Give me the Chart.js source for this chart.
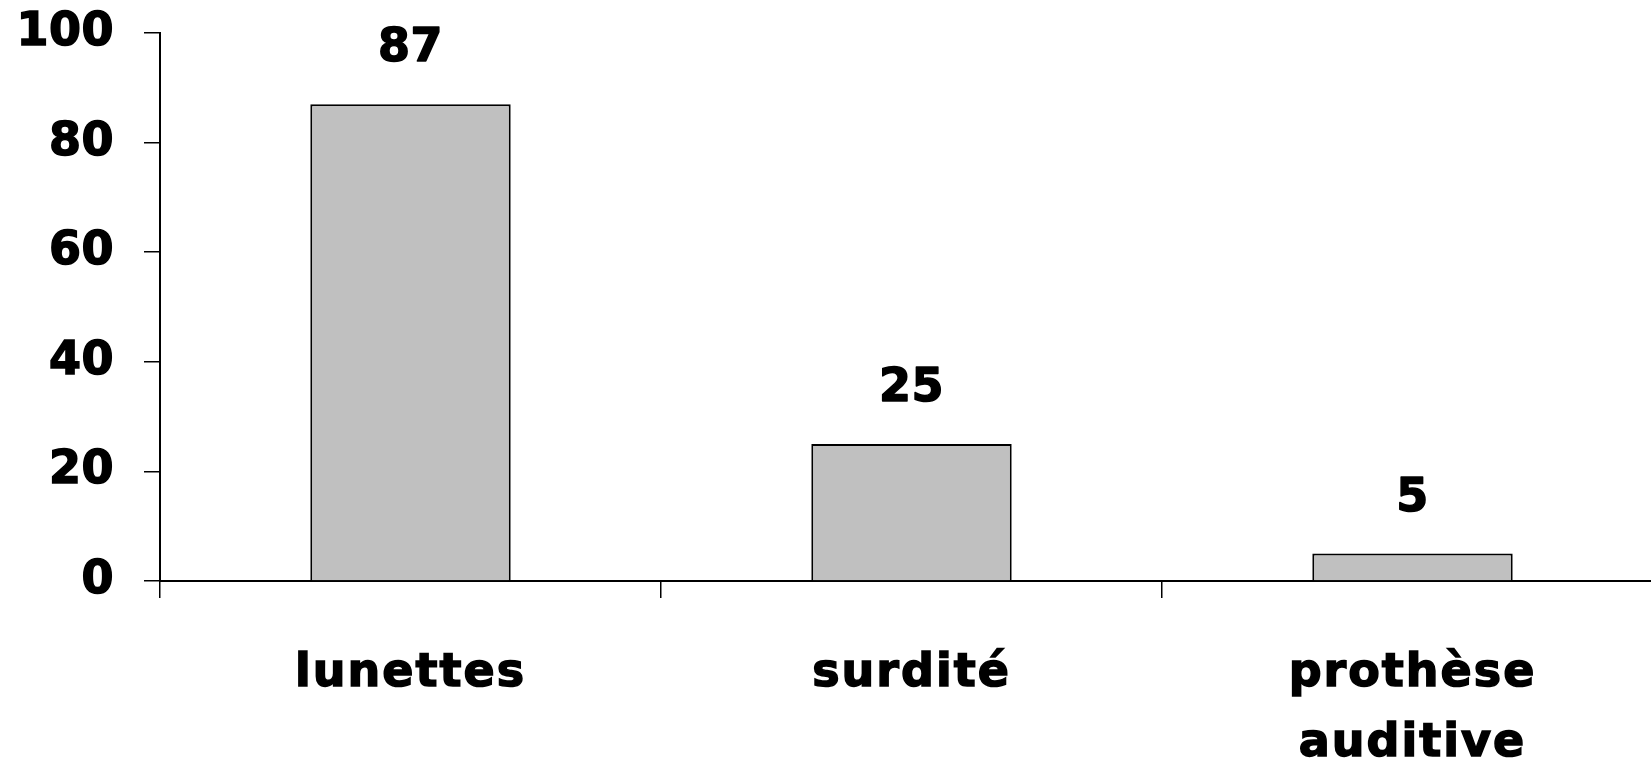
<!DOCTYPE html>
<html>
<head>
<meta charset="utf-8">
<script src="https://cdn.jsdelivr.net/npm/chart.js@4"></script>
<style>
    html, body { margin: 0; padding: 0; background: #fff; overflow: hidden; }
    #wrap { position: relative; width: 1663px; height: 762px; }
</style>
</head>
<body>
<div id="wrap"><canvas id="aidesChart"></canvas></div>
<script>
const categories = ['lunettes', 'surdité', ['prothèse', 'auditive']];
const counts = [87, 25, 5];
const yTicks = [0, 20, 40, 60, 80, 100];

const FONT = { family: "'DejaVu Sans', sans-serif", size: 46, weight: 'bold' };
const STROKE = 1.5;

// espacement des lettres : plus large sous l'axe x que pour les nombres
const spacing = {
    id: 'spacing',
    beforeDraw(chart) {
        chart.ctx.letterSpacing = '0.5px';
    },
    afterDatasetsDraw(chart) {
        chart.ctx.letterSpacing = '0.5px';
    }
};

// valeur écrite au-dessus de chaque barre
const valueLabels = {
    id: 'valueLabels',
    afterDatasetsDraw(chart) {
        const ctx = chart.ctx;
        const meta = chart.getDatasetMeta(0);
        ctx.save();
        ctx.font = `bold ${FONT.size}px ${FONT.family}`;
        ctx.fillStyle = '#000';
        ctx.strokeStyle = '#000';
        ctx.lineWidth = STROKE;
        ctx.lineJoin = 'round';
        ctx.textAlign = 'center';
        ctx.textBaseline = 'middle';
        meta.data.forEach((bar, i) => {
            ctx.strokeText(String(counts[i]), bar.x, bar.y - 55);
            ctx.fillText(String(counts[i]), bar.x, bar.y - 55);
        });
        ctx.restore();
    }
};

document.addEventListener('DOMContentLoaded', () => {
    const ctx = document.getElementById('aidesChart');
    const chart = new Chart(ctx.getContext('2d'), {
        type: 'bar',
        data: {
            labels: categories,
            datasets: [{
                data: counts,
                backgroundColor: '#c0c0c0',
                borderColor: '#000',
                borderWidth: 2,
                barPercentage: 0.4,
                categoryPercentage: 1
            }]
        },
        options: {
            responsive: true,
            maintainAspectRatio: false,
            animation: false,
            layout: { padding: { top: 33, left: 18, right: 0, bottom: 0 } },
            plugins: {
                legend: { display: false },
                tooltip: { enabled: false }
            },
            scales: {
                x: {
                    afterFit(scale) {
                        scale.height = 181;
                        scale.paddingLeft = 0;
                        scale.paddingRight = 0;
                    },
                    grid: {
                        offset: true,
                        drawOnChartArea: false,
                        drawTicks: true,
                        tickLength: 17,
                        color: '#000',
                        lineWidth: 1.5
                    },
                    border: { display: true, color: '#000', width: 2 },
                    ticks: {
                        color: '#000',
                        textStrokeColor: '#000',
                        textStrokeWidth: STROKE,
                        font: { ...FONT, lineHeight: 70 / 46 },
                        padding: 41,
                        maxRotation: 0,
                        autoSkip: false
                    }
                },
                y: {
                    min: 0,
                    max: 100,
                    afterBuildTicks(scale) {
                        scale.ticks = yTicks.map(v => ({ value: v }));
                    },
                    afterFit(scale) {
                        scale.width = 142;
                        scale.paddingTop = 0;
                        scale.paddingBottom = 0;
                    },
                    grid: {
                        drawOnChartArea: false,
                        drawTicks: true,
                        tickLength: 16,
                        color: '#000',
                        lineWidth: 1.5
                    },
                    border: { display: true, color: '#000', width: 2 },
                    ticks: {
                        color: '#000',
                        textStrokeColor: '#000',
                        textStrokeWidth: STROKE,
                        font: FONT,
                        padding: 30
                    }
                }
            }
        },
        plugins: [spacing, valueLabels]
    });

    // les noms de catégories sont un peu plus espacés
    const xScale = chart.scales.x;
    const drawX = xScale.drawLabels.bind(xScale);
    xScale.drawLabels = function (area) {
        const c = this.ctx;
        const prev = c.letterSpacing;
        c.letterSpacing = '2px';
        drawX(area);
        c.letterSpacing = prev;
    };
    chart.draw();
});
</script>
</body>
</html>
